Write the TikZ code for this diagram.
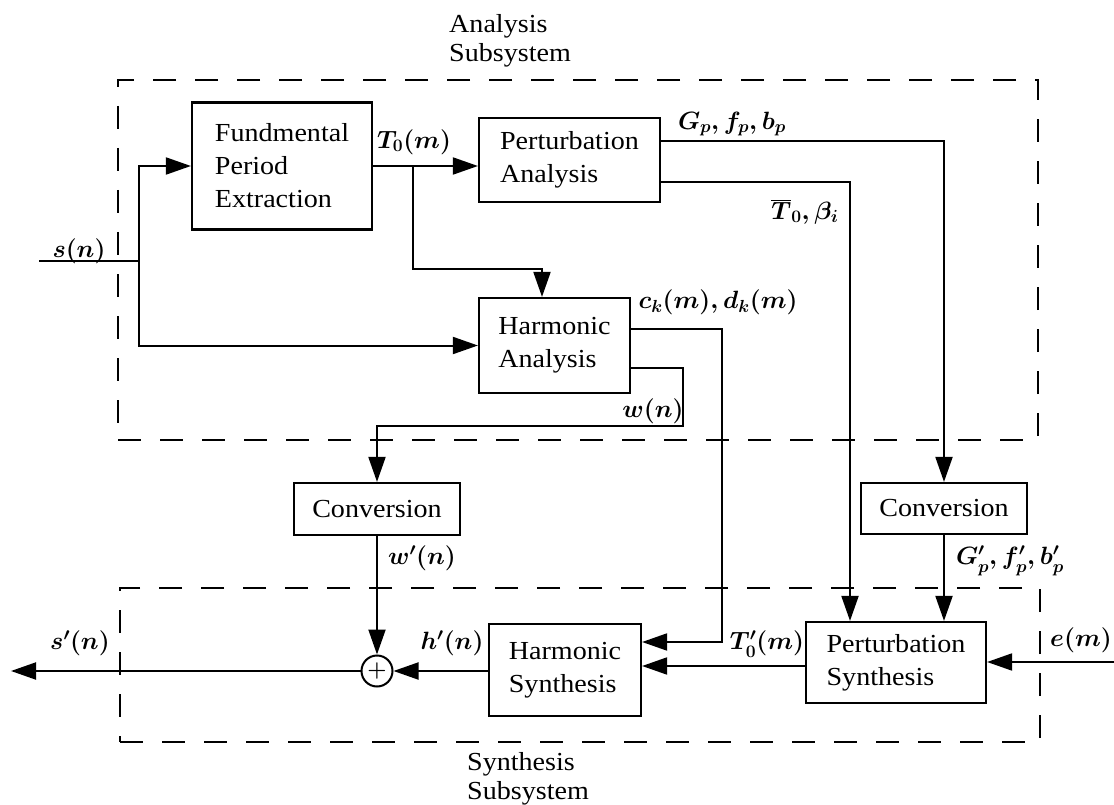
\documentclass[tikz,border=0pt]{standalone}
\usepackage{fix-cm}
\usepackage{fontspec}
\setmainfont{Liberation Serif}[FakeStretch=1.08]
\usetikzlibrary{arrows.meta,calc}
\begin{document}
\begin{tikzpicture}[x=1pt,y=-1pt,
  blk/.style={draw, line width=2.2pt, align=left, inner sep=0pt, font=\fontsize{26}{33}\selectfont},
  ttl/.style={font=\fontsize{26}{29}\selectfont, inner sep=0pt, align=left},
  lbl/.style={font=\fontsize{25}{31}\selectfont\boldmath, inner sep=0pt},
  con/.style={line width=2pt},
  arr/.style={con, -{Triangle[length=25pt,width=17pt]}},
  sub/.style={draw, dash pattern=on 23pt off 19pt, line width=2pt, inner sep=0pt}]
\useasboundingbox (0,0) rectangle (1114,805);
% subsystem frames
\node[sub, minimum width=920pt, minimum height=360pt] (asub) at (578,260) {};
\node[sub, minimum width=920pt, minimum height=154pt] (ssub) at (580,665) {};
\node[ttl, anchor=north west] (la) at (449,14) {Analysis\\Subsystem};
\node[ttl, anchor=north west] (ls2) at (467,752) {Synthesis\\Subsystem};
% blocks
\node[blk, minimum width=180pt, minimum height=127pt] (fpe) at (282,166) {Fundmental\\Period\\Extraction};
\node[blk, minimum width=181pt, minimum height=84pt] (pa) at (569.5,160) {Perturbation\\Analysis};
\node[blk, minimum width=151pt, minimum height=95pt] (ha) at (554.5,345.5) {Harmonic\\Analysis};
\node[blk, minimum width=166pt, minimum height=52pt] (cv1) at (377,509) {Conversion};
\node[blk, minimum width=166pt, minimum height=51pt] (cv2) at (944,508.5) {Conversion};
\node[blk, minimum width=152pt, minimum height=92pt] (hs) at (565,670) {Harmonic\\Synthesis};
\node[blk, minimum width=180pt, minimum height=81pt] (ps) at (896,662.5) {Perturbation\\Synthesis};
\node[draw, circle, line width=2pt, minimum size=31pt, inner sep=0pt, font=\fontsize{22}{22}\selectfont\boldmath] (sum) at (377,671) {$+$};
% connectors
\coordinate (sin) at (39,261);
\coordinate (j1) at (139,261);
\draw[con] (sin) -- (j1);
\draw[arr] (j1) |- (fpe.west);
\draw[arr] (j1) |- (ha.west);
\draw[arr] (fpe.east) -- (fpe.east -| pa.west);
\coordinate (t0) at (413,166);
\coordinate (b1) at (413,269);
\draw[arr] (t0) -- (b1) -| ([xshift=-12.5pt]ha.north);
\coordinate (g1) at (944,141);
\draw[arr] (pa.east |- g1) -- (g1) -- (cv2.north);
\coordinate (tb1) at (850,182);
\draw[arr] (pa.east |- tb1) -- (tb1) -- (tb1 |- ps.north);
\draw[arr] (cv2.south) -- (cv2.south |- ps.north);
\coordinate (c1) at (722,329);
\coordinate (c2) at (722,642);
\draw[arr] (ha.east |- c1) -- (c1) -- (c2) -- (c2 -| hs.east);
\coordinate (w1) at (683,368);
\coordinate (w2) at (683,426);
\coordinate (w3) at (377,426);
\draw[arr] (ha.east |- w1) -- (w1) -- (w2) -- (w3) -- (cv1.north);
\draw[arr] (cv1.south) -- (sum.north);
\draw[arr] (hs.west |- sum) -- (sum.east);
\coordinate (sout) at (11,671);
\draw[arr] (sum.west) -- (sout);
\coordinate (tp) at (806,666);
\draw[arr] (ps.west |- tp) -- (tp -| hs.east);
\coordinate (ein) at (1114,662);
\draw[arr] (ein) -- (ein -| ps.east);
% labels
\node[lbl] (lsn) at (79,251) {$s(n)$};
\node[lbl] (lt0) at (414,142) {$T_0(m)$};
\node[lbl] (lgp) at (732,124) {$G_p,f_p,b_p$};
\node[lbl] (ltb) at (805,212) {$\overline{T}_0,\beta_i$};
\node[lbl] (lck) at (718,302) {$c_k(m),d_k(m)$};
\node[lbl] (lwn) at (653,411) {$w(n)$};
\node[lbl] (lwp) at (422,558) {$w'(n)$};
\node[lbl] (lgpp) at (1010,561) {$G'_p,f'_p,b'_p$};
\node[lbl] (lsp) at (80,643) {$s'(n)$};
\node[lbl] (lhp) at (452,643) {$h'(n)$};
\node[lbl] (ltp) at (767,644) {$T'_0(m)$};
\node[lbl] (lem) at (1081,640) {$e(m)$};
\end{tikzpicture}
\end{document}
